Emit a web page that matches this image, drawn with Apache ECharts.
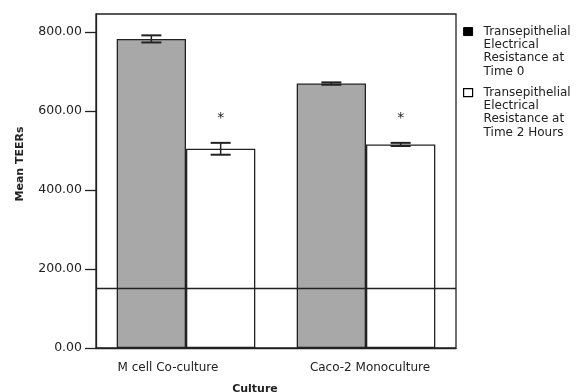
<!DOCTYPE html>
<html><head><meta charset="utf-8">
<script src="https://cdn.jsdelivr.net/npm/echarts@6/dist/echarts.min.js"></script>
<style>html,body{margin:0;padding:0;background:#fff}#c{width:582px;height:392px}</style>
</head><body><div id="c"></div>
<script>
const categories = ['M cell Co-culture', 'Caco-2 Monoculture'];
const seriesNames = ['Transepithelial\nElectrical\nResistance at\nTime 0', 'Transepithelial\nElectrical\nResistance at\nTime 2 Hours'];
const time0 = [782, 669];
const time0Err = [9, 3];
const time2h = [504, 515];
const time2hErr = [15, 4];
const significant = [true, true];
const baseline = 152;
const yTicks = [0, 200, 400, 600, 800];

const FONT = 'DejaVu Sans';
const INK = '#222';
const BAR_W = 0.385;

const errData = [];
categories.forEach((c, i) => {
  errData.push([i, time0[i], time0Err[i], -1]);
  errData.push([i, time2h[i], time2hErr[i], 1]);
});
const starData = [];
categories.forEach((c, i) => { if (significant[i]) starData.push([i, time2h[i] + time2hErr[i], 1]); });

const chart = echarts.init(document.getElementById('c'), null, {renderer: 'canvas'});
chart.setOption({
  animation: false,
  backgroundColor: '#fff',
  grid: {left: 96, right: 126, top: 14, bottom: 44, show: true, borderColor: INK, borderWidth: 1.3,
    backgroundColor: 'transparent', containLabel: false, outerBoundsMode: 'none'},
  legend: {
    orient: 'vertical', left: 463, top: -15, padding: 0, itemGap: -32,
    itemWidth: 9, itemHeight: 8, icon: 'rect', selectedMode: false,
    formatter: name => '\n\n\n' + name,
    textStyle: {fontFamily: FONT, fontSize: 12, color: INK, lineHeight: 13.3, padding: [0, 0, 0, 6]},
    data: [
      {name: seriesNames[0], itemStyle: {color: '#000', borderColor: '#000', borderWidth: 1}},
      {name: seriesNames[1], itemStyle: {color: '#fff', borderColor: '#000', borderWidth: 1.2}}
    ]
  },
  xAxis: {
    type: 'category',
    data: [
      {value: categories[0], textStyle: {padding: [0, 36, 0, 0]}},
      {value: categories[1], textStyle: {padding: [0, 0, 0, 8]}}
    ],
    name: 'Culture', nameLocation: 'middle', nameGap: 36,
    nameTextStyle: {fontFamily: FONT, fontSize: 11, fontWeight: 'bold', color: INK, padding: [0, 42, 0, 0]},
    axisLine: {lineStyle: {color: INK, width: 1.3}},
    axisTick: {alignWithLabel: true, length: 8, lineStyle: {color: INK, width: 1.3}},
    axisLabel: {fontFamily: FONT, fontSize: 12, color: INK, margin: 14}
  },
  yAxis: {
    type: 'value', min: 0, max: 845,
    name: 'Mean TEERs', nameLocation: 'middle', nameGap: 70,
    nameTextStyle: {fontFamily: FONT, fontSize: 11, fontWeight: 'bold', color: INK, padding: [0, 0, 0, 34]},
    splitLine: {show: false},
    axisLine: {show: true, lineStyle: {color: INK, width: 1.3}},
    axisTick: {show: true, length: 11, customValues: yTicks, lineStyle: {color: INK, width: 1.3}},
    axisLabel: {fontFamily: FONT, fontSize: 12.5, color: INK, margin: 14, customValues: yTicks, formatter: v => v.toFixed(2)}
  },
  series: [
    {
      name: seriesNames[0], type: 'bar', data: time0, barWidth: (BAR_W * 100) + '%', barGap: '0%',
      itemStyle: {color: '#a8a8a8', borderColor: INK, borderWidth: 1.3},
      markLine: {
        silent: true, symbol: ['none', 'none'], label: {show: false},
        lineStyle: {color: INK, width: 1.3, type: 'solid'},
        data: [{yAxis: baseline}]
      }
    },
    {
      name: seriesNames[1], type: 'bar', data: time2h, barWidth: (BAR_W * 100) + '%',
      itemStyle: {color: '#fff', borderColor: INK, borderWidth: 1.3}
    },
    {
      type: 'custom', silent: true, z: 5, data: errData,
      renderItem: function (params, api) {
        const ci = api.value(0), v = api.value(1), e = api.value(2), side = api.value(3);
        const band = api.size([1, 0])[0];
        const cx = api.coord([ci, v])[0] + side * band * BAR_W / 2;
        const yTop = api.coord([ci, v + e])[1];
        const yBot = api.coord([ci, v - e])[1];
        const hw = 10;
        const st = {stroke: INK, lineWidth: 1.5};
        return {type: 'group', children: [
          {type: 'line', shape: {x1: cx, y1: yTop, x2: cx, y2: yBot}, style: st},
          {type: 'line', shape: {x1: cx - hw, y1: yTop, x2: cx + hw, y2: yTop}, style: {stroke: INK, lineWidth: 2}},
          {type: 'line', shape: {x1: cx - hw, y1: yBot, x2: cx + hw, y2: yBot}, style: {stroke: INK, lineWidth: 2}}
        ]};
      }
    },
    {
      type: 'custom', silent: true, z: 6, data: starData,
      renderItem: function (params, api) {
        const ci = api.value(0), v = api.value(1), side = api.value(2);
        const band = api.size([1, 0])[0];
        const p = api.coord([ci, v]);
        return {type: 'text', style: {text: '*', x: p[0] + side * band * BAR_W / 2, y: p[1] - 24,
          fontFamily: FONT, fontSize: 14, fill: INK, align: 'center', verticalAlign: 'middle'}};
      }
    }
  ]
});
</script></body></html>
